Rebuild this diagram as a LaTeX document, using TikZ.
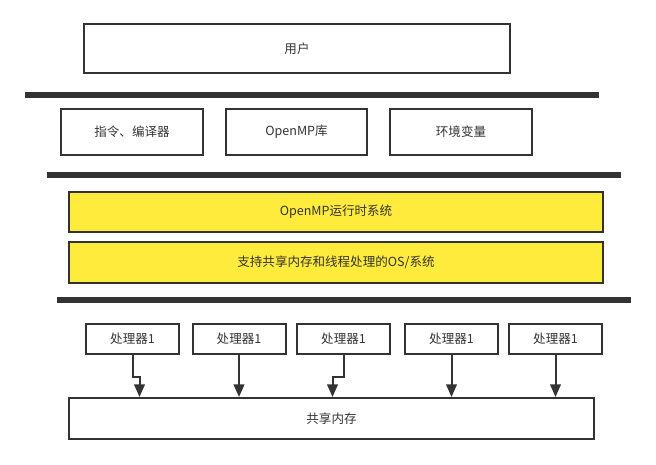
\documentclass[tikz,border=0pt]{standalone}
\usepackage{fontspec}
\setmainfont{Noto Sans CJK SC}
\usetikzlibrary{arrows.meta}
\definecolor{ink}{HTML}{333333}
\definecolor{sun}{HTML}{FFEB3B}
\begin{document}
\begin{tikzpicture}[x=0.75pt, y=-0.75pt,
    box/.style={draw=ink, line width=1.5pt, text=ink, inner sep=0pt,
        font=\fontsize{9.4}{11}\selectfont},
    yellowbox/.style={box, fill=sun, minimum width=534*0.75pt, minimum height=40*0.75pt},
    cpu/.style={box, minimum width=93*0.75pt, minimum height=30*0.75pt},
    bar/.style={ink, line width=4.5pt},
    arr/.style={ink, line width=1.5pt, -{Triangle[width=8pt, length=9.5pt]}}]
    \useasboundingbox (0,0) rectangle (656,464);
    \node[box, minimum width=426*0.75pt, minimum height=49*0.75pt] (user) at (297,48.5) {用户};
    \draw[bar] (25,95) -- (599,95);
    \node[box, minimum width=142*0.75pt, minimum height=46*0.75pt] (cc) at (132,132) {指令、编译器};
    \node[box, minimum width=141*0.75pt, minimum height=46*0.75pt] (lib) at (296.5,132) {OpenMP库};
    \node[box, minimum width=142*0.75pt, minimum height=46*0.75pt] (env) at (461,132) {环境变量};
    \draw[bar] (47,175) -- (621,175);
    \node[yellowbox] (rt) at (336,212) {OpenMP运行时系统};
    \node[yellowbox, minimum height=41*0.75pt] (os) at (336,262.5) {支持共享内存和线程处理的OS/系统};
    \draw[bar] (57,300) -- (631,300);
    \node[cpu] (p1) at (132.5,339) {处理器1};
    \node[cpu] (p2) at (239,339) {处理器1};
    \node[cpu] (p3) at (343.5,339) {处理器1};
    \node[cpu] (p4) at (451.5,339) {处理器1};
    \node[cpu] (p5) at (555.5,339) {处理器1};
    \node[box, minimum width=525*0.75pt, minimum height=41*0.75pt] (mem) at (331.5,418.5) {共享内存};
    \coordinate (k1) at ([xshift=5.25pt]p1.south |- mem.north);
    \coordinate (k3) at ([xshift=-8.25pt]p3.south |- mem.north);
    \draw[arr] (p1.south) -- ++(0,22) -| (k1);
    \draw[arr] (p2.south) -- (p2.south |- mem.north);
    \draw[arr] (p3.south) -- ++(0,22) -| (k3);
    \draw[arr] (p4.south) -- (p4.south |- mem.north);
    \draw[arr] (p5.south) -- (p5.south |- mem.north);
\end{tikzpicture}
\end{document}
